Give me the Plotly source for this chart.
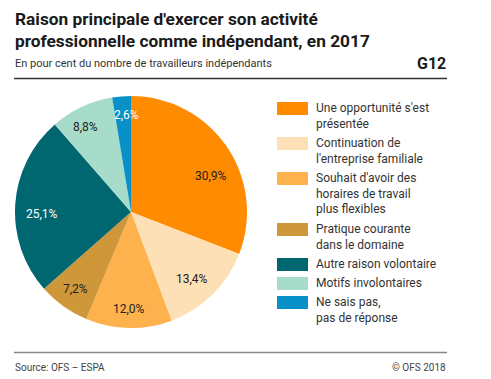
import math
import plotly.graph_objects as go

categories = [
    "Une opportunité s'est<br>présentée",
    "Continuation de<br>l'entreprise familiale",
    "Souhait d'avoir des<br>horaires de travail<br>plus flexibles",
    "Pratique courante<br>dans le domaine",
    "Autre raison volontaire",
    "Motifs involontaires",
    "Ne sais pas,<br>pas de réponse",
]
values = [30.9, 13.4, 12.0, 7.2, 25.1, 8.8, 2.6]
colors = ["#FF8C00", "#FEE0B6", "#FDB24E", "#CE973A", "#00666F", "#A8DCCA", "#0891C8"]
text_colors = ["#222222", "#222222", "#222222", "#222222", "#FFFFFF", "#222222", "#FFFFFF"]
labels_txt = [f"{v:.1f}%".replace(".", ",") for v in values]

# Page body has an 8px margin; lay out in reference pixel coordinates and compensate.
OFF = 8
W, H = 491 - OFF, 379 - OFF


def px(x):
    return (x - OFF) / W


def py(y):
    return 1 - (y - OFF) / H


CX, CY, R = 131, 212, 116

fig = go.Figure()
fig.add_trace(go.Pie(
    labels=categories,
    values=values,
    textinfo="none",
    sort=False,
    direction="clockwise",
    rotation=0,
    marker=dict(colors=colors, line=dict(width=0)),
    domain=dict(x=[px(CX - R), px(CX + R)], y=[py(CY + R), py(CY - R)]),
    showlegend=False,
    hoverinfo="label+percent",
))

shapes = []
annotations = []

# Slice value labels placed at slice mid-angles
angle_shift = [10, 2, 0, 0, -5, -3, 2]
radius_frac = [0.76, 0.78, 0.84, 0.82, 0.77, 0.83, 0.84]
total = sum(values)
cum = 0.0
for v, t, tc, sh, rf in zip(values, labels_txt, text_colors, angle_shift, radius_frac):
    mid = (cum + v / 2) / total * 2 * math.pi + math.radians(sh)
    cum += v
    lx = CX + rf * R * math.sin(mid)
    ly = CY - rf * R * math.cos(mid)
    annotations.append(dict(x=px(lx), y=py(ly), xref="paper", yref="paper",
                            xanchor="center", yanchor="middle", text=t, showarrow=False,
                            font=dict(family="Roboto", size=12, color=tc)))

# Header
annotations.append(dict(x=px(13), y=py(7), xref="paper", yref="paper", xanchor="left", yanchor="top",
                        text="<b>Raison principale d'exercer son activité<br>professionnelle comme indépendant, en 2017</b>",
                        showarrow=False, align="left",
                        font=dict(family="Roboto", size=17.3, color="#1a1a1a")))
annotations.append(dict(x=px(13), y=py(64), xref="paper", yref="paper", xanchor="left", yanchor="middle",
                        text="En pour cent du nombre de travailleurs indépendants", showarrow=False,
                        font=dict(family="Roboto", size=11, color="#333333")))
annotations.append(dict(x=px(448), y=py(63), xref="paper", yref="paper", xanchor="right", yanchor="middle",
                        text="<b>G12</b>", showarrow=False,
                        font=dict(family="Roboto", size=16, color="#1a1a1a")))
shapes.append(dict(type="line", xref="paper", yref="paper", x0=px(14), x1=px(447), y0=py(78.5), y1=py(78.5),
                   line=dict(color="#333333", width=1.3), layer="above"))

# Footer
shapes.append(dict(type="line", xref="paper", yref="paper", x0=px(14), x1=px(447), y0=py(352.5), y1=py(352.5),
                   line=dict(color="#888888", width=1.3), layer="above"))
annotations.append(dict(x=px(13), y=py(367), xref="paper", yref="paper", xanchor="left", yanchor="middle",
                        text="Source: OFS – ESPA", showarrow=False,
                        font=dict(family="Roboto", size=10, color="#444444")))
annotations.append(dict(x=px(448), y=py(367), xref="paper", yref="paper", xanchor="right", yanchor="middle",
                        text="© OFS 2018", showarrow=False,
                        font=dict(family="Roboto", size=10, color="#444444")))

# Custom legend
line_h = 16
y = 102
for cat, col in zip(categories, colors):
    nlines = cat.count("<br>") + 1
    shapes.append(dict(type="rect", xref="paper", yref="paper",
                       x0=px(277), x1=px(308), y0=py(y + 13), y1=py(y),
                       fillcolor=col, line=dict(width=0)))
    annotations.append(dict(x=px(314), y=py(y - 3), xref="paper", yref="paper",
                            xanchor="left", yanchor="top", align="left",
                            text=cat, showarrow=False,
                            font=dict(family="Roboto", size=12, color="#333333")))
    y += nlines * line_h + 3

fig.update_layout(
    width=W, height=H,
    margin=dict(l=0, r=0, t=0, b=0),
    paper_bgcolor="white", plot_bgcolor="white",
    shapes=shapes, annotations=annotations,
)

fig.write_html("out.html")
